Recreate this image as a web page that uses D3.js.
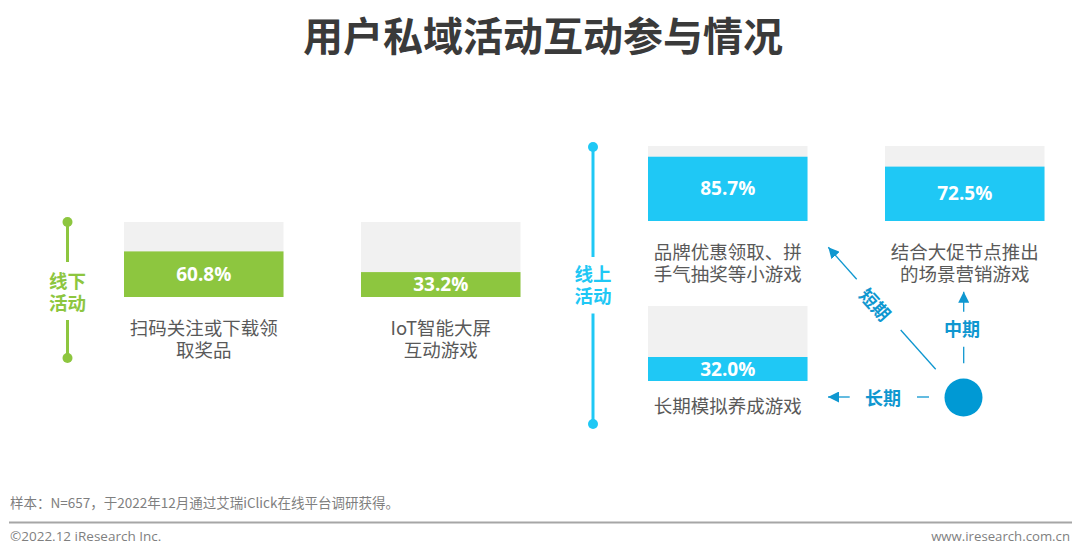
<!DOCTYPE html>
<html><head><meta charset="utf-8">
<script src="https://cdn.jsdelivr.net/npm/d3@7"></script>
<style>html,body{margin:0;padding:0;background:#fff}svg{display:block}</style>
</head><body><svg id="c" width="1080" height="557"></svg>
<script>
const titleText = "用户私域活动互动参与情况";
const offlineNames = [["扫码关注或下载领","取奖品"],["IoT智能大屏","互动游戏"]];
const offlineValues = [60.8,33.2];
const onlineNames = [["品牌优惠领取、拼","手气抽奖等小游戏"],["结合大促节点推出","的场景营销游戏"],["长期模拟养成游戏"]];
const onlineValues = [85.7,72.5,32.0];
const noteText = "样本：N=657，于2022年12月通过艾瑞iClick在线平台调研获得。";
const copyrightText = "©2022.12 iResearch Inc.";
const siteText = "www.iresearch.com.cn";

const FONT = "'Noto Sans CJK SC','Noto Sans',sans-serif";
const NUM = "'Open Sans','Noto Sans',sans-serif";
const GREEN="#8dc63f", BLUE="#1fc8f5", DEEP="#0f97d0", TRACK="#f1f1f1", TXT="#595959";
const svg=d3.select("#c");
const text=(s,x,y,size,fill,weight,anchor,font)=>svg.append("text").text(s).attr("x",x).attr("y",y)
  .attr("font-size",size).attr("fill",fill).attr("font-weight",weight||400)
  .attr("text-anchor",anchor||"middle").attr("dominant-baseline","central").attr("font-family",font||FONT);
const multi=(lines,x,y,size,fill,weight,lh)=>{
  const t=text("",x,y,size,fill,weight);
  lines.forEach((l,i)=>t.append("tspan").attr("x",x).attr("dy",i?lh:0).text(l));
  return t;
};

text(titleText,543,34,40,"#3a3a3a",700);

const W=159.5,H=75;
function card(x,top,value,lines,color,labelY){
  const y=d3.scaleLinear().domain([0,100]).range([top+H,top]);
  svg.append("rect").attr("x",x).attr("y",y(100)).attr("width",W).attr("height",H).attr("fill",TRACK);
  svg.append("rect").attr("x",x).attr("y",y(value)).attr("width",W).attr("height",y(0)-y(value)).attr("fill",color);
  text(value.toFixed(1)+"%",x+W/2,(y(value)+y(0))/2-0.5,19,"#fff",700,"middle",NUM);
  multi(lines,x+W/2,labelY,18.5,TXT,400,22);
}
card(124,222,offlineValues[0],offlineNames[0],GREEN,326.5);
card(361,222,offlineValues[1],offlineNames[1],GREEN,326.5);
card(648,146,onlineValues[0],onlineNames[0],BLUE,250.5);
card(885,146,onlineValues[1],onlineNames[1],BLUE,250.5);
card(648,306,onlineValues[2],onlineNames[2],BLUE,404.5);

function rail(x,y0,y1,y2,y3,color,words,wy){
  [[y0,y1],[y2,y3]].forEach(([a,b])=>svg.append("line").attr("x1",x).attr("x2",x).attr("y1",a).attr("y2",b).attr("stroke",color).attr("stroke-width",3));
  [y0,y3].forEach(c=>svg.append("circle").attr("cx",x).attr("cy",c).attr("r",5).attr("fill",color));
  multi(words,x,wy,18.5,color,700,22);
}
rail(67.5,222,262,320,358,GREEN,["线下","活动"],279.5);
rail(593,147,257,313.5,424,BLUE,["线上","活动"],273);

svg.append("defs").append("marker").attr("id","ah").attr("viewBox","0 0 10 10").attr("refX",10).attr("refY",5)
  .attr("markerWidth",11).attr("markerHeight",11).attr("markerUnits","userSpaceOnUse").attr("orient","auto")
  .append("path").attr("d","M0,0L10,5L0,10Z").attr("fill",DEEP);
const seg=(x1,y1,x2,y2,head)=>{const l=svg.append("line").attr("x1",x1).attr("y1",y1).attr("x2",x2).attr("y2",y2)
  .attr("stroke",DEEP).attr("stroke-width",1.3); if(head)l.attr("marker-end","url(#ah)");};
seg(935.7,369.3,900.7,330); seg(856.7,279.3,828.3,247.3,true);
seg(963.7,363.3,963.7,346.7); seg(963.7,311.7,963.7,291.7,true);
seg(929,397,917,397); seg(849.7,397,828,397,true);
svg.append("circle").attr("cx",963.5).attr("cy",397.5).attr("r",19).attr("fill","#0099d4");
text("中期",962,328,18,DEEP,700);
text("长期",883,396.5,18,DEEP,700);
text("短期",876,304,18,DEEP,700).attr("transform","rotate(48 876 304)");

text(noteText,10,501.5,13.5,"#7f7f7f",400,"start");
svg.append("line").attr("x1",9).attr("x2",1072).attr("y1",522.5).attr("y2",522.5).attr("stroke","#a6a6a6").attr("stroke-width",2);
text(copyrightText,10,535.5,13.5,"#7f7f7f",400,"start",NUM);
text(siteText,1070,535.5,13.2,"#7f7f7f",400,"end",NUM);
</script></body></html>
